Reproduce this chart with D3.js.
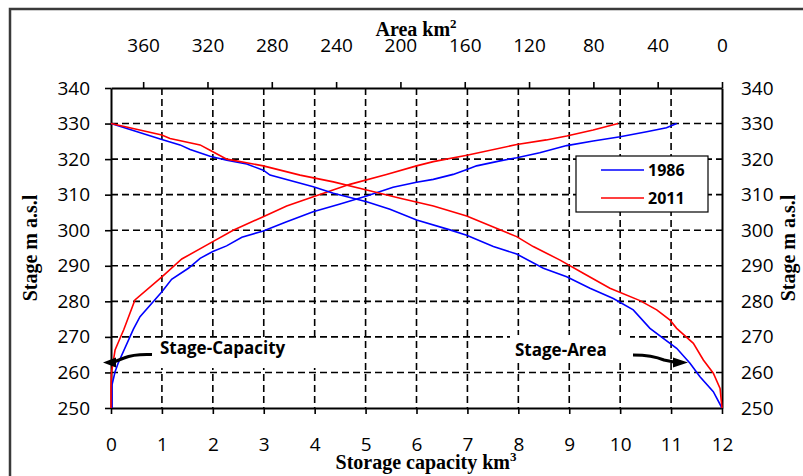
<!DOCTYPE html>
<html>
<head>
<meta charset="utf-8">
<script src="https://cdn.jsdelivr.net/npm/d3@7"></script>
<style>
  body { margin: 0; background: #fff; }
  svg { display: block; }
  .tick text { font-family: "Open Sans", sans-serif; font-size: 19px; fill: #000; }
</style>
</head>
<body>
<div id="chart"></div>
<script>
// stage-capacity readings (km3 vs m a.s.l)
var cap1986Stage = [250, 256.5, 260.2, 262.6, 272.2, 275.7, 282.7, 286.2, 289.3, 292.1, 294.0, 295.6, 298.0, 299.8, 302.4, 305.2, 307.4, 309.6, 312.1, 313.5, 314.3, 315.7, 317.1, 318.1, 319.5, 320.4, 321.8, 323.8, 325.1, 326.3, 327.7, 328.8, 330];
var cap1986 = [0.02, 0.02, 0.08, 0.14, 0.44, 0.57, 1.0, 1.19, 1.52, 1.75, 2.0, 2.27, 2.57, 2.99, 3.45, 3.97, 4.5, 5.02, 5.54, 6.0, 6.33, 6.72, 6.99, 7.18, 7.64, 7.97, 8.42, 8.95, 9.47, 10.0, 10.52, 10.91, 11.11];
var cap2011Stage = [250, 256, 260, 266.3, 269.7, 272, 280.4, 286.9, 291.9, 296.8, 300.0, 303.8, 306.8, 309.7, 312.9, 315.7, 318.1, 319.3, 321.1, 324.1, 325.4, 326.5, 328.2, 330];
var cap2011 = [0, 0, 0.01, 0.08, 0.18, 0.25, 0.47, 1.0, 1.39, 2.0, 2.4, 2.99, 3.45, 4.03, 4.69, 5.41, 6.0, 6.33, 6.99, 7.97, 8.55, 8.95, 9.47, 9.96];

// stage-area readings (km2 vs m a.s.l)
var area1986Stage = [330, 325.5, 324, 322.7, 320.8, 319.7, 318.6, 316.9, 315.5, 312.2, 310.4, 308, 305.9, 302.9, 300.1, 298.6, 295.4, 293.3, 289.3, 286.9, 283.7, 280.8, 277.6, 272.4, 266.8, 262.6, 258.8, 254.6, 250];
var area1986 = [380, 348.4, 337.1, 330.8, 318.4, 308, 295.6, 285.3, 281.1, 254.2, 241.7, 221, 206.5, 189.9, 169.2, 158.8, 142.2, 127.7, 111.1, 96.6, 82.1, 67.6, 55.2, 44.8, 28.2, 19.9, 13.7, 5.4, 0];
var area2011Stage = [330, 326.8, 325.8, 324.0, 322.5, 320.0, 318.1, 315.5, 313.6, 311.3, 309, 306.8, 304, 298.2, 295.4, 291.6, 287.9, 283.7, 280.2, 277.6, 274.7, 272.4, 268.2, 263.5, 259.8, 255.5, 250];
var area2011 = [380, 348.4, 343.3, 324.6, 318.4, 308, 285.3, 262.4, 241.7, 221, 200.2, 179.5, 158.8, 127.7, 117.4, 100.7, 86.3, 69.7, 51, 40.6, 32.3, 28.2, 17.8, 11.6, 5.4, 1.2, 0];

var years = ["1986", "2011"];
var colors = ["#0000ff", "#ff0000"];
var capTicks = d3.range(0, 13, 1);
var areaTicks = d3.range(0, 361, 40);
var stageTicks = d3.range(250, 341, 10);

var W = 803, H = 476;
// plot box (note: "top" is taken by window.top, so use p* names)
var pLeft = 111, pRight = 722, pTop = 88, pBottom = 408;

var x = d3.scaleLinear().domain([0, 12]).range([pLeft, pRight]);
var xArea = d3.scaleLinear().domain([380, 0]).range([pLeft, pRight]);
var y = d3.scaleLinear().domain([250, 340]).range([pBottom, pTop]);

var svg = d3.select("#chart").append("svg")
    .attr("width", W)
    .attr("height", H);

// outer frame (runs off the right / bottom edge like the source)
svg.append("rect")
    .attr("x", 10).attr("y", 9)
    .attr("width", 800).attr("height", 480)
    .attr("fill", "none")
    .attr("stroke", "#3a3a3a")
    .attr("stroke-width", 2.5);

// dashed grid
var grid = svg.append("g").attr("stroke", "#000").attr("stroke-width", 1.6).attr("stroke-dasharray", "7,4");
grid.selectAll("line.h")
    .data(stageTicks.filter(function(d) { return d > 250 && d < 340; }))
    .enter().append("line")
    .attr("x1", pLeft).attr("x2", pRight)
    .attr("y1", function(d) { return y(d); })
    .attr("y2", function(d) { return y(d); });
grid.selectAll("line.v")
    .data(capTicks.filter(function(d) { return d > 0 && d < 12; }))
    .enter().append("line")
    .attr("x1", function(d) { return x(d); })
    .attr("x2", function(d) { return x(d); })
    .attr("y1", pTop).attr("y2", pBottom);

// white boxes behind the annotation texts
svg.append("rect").attr("x", 150).attr("y", 339).attr("width", 170).attr("height", 29).attr("fill", "#fff");
svg.append("rect").attr("x", 510).attr("y", 335).attr("width", 120).attr("height", 27).attr("fill", "#fff");

// axes
function styleAxis(g) {
    g.select(".domain").attr("stroke", "#000").attr("stroke-width", 2);
    g.selectAll(".tick line").attr("stroke", "#000").attr("stroke-width", 1.6);
}

svg.append("g")
    .attr("transform", "translate(0," + pBottom + ")")
    .call(d3.axisBottom(x).tickValues(capTicks).tickSize(6).tickSizeOuter(0).tickPadding(24).tickFormat(d3.format("d")))
    .call(styleAxis);

svg.append("g")
    .attr("transform", "translate(0," + pTop + ")")
    .call(d3.axisTop(xArea).tickValues(areaTicks).tickSize(6).tickSizeOuter(0).tickPadding(30).tickFormat(d3.format("d")))
    .call(styleAxis);

svg.append("g")
    .attr("transform", "translate(" + pLeft + ",0)")
    .call(d3.axisLeft(y).tickValues(stageTicks).tickSize(6).tickSizeOuter(0).tickPadding(15))
    .call(styleAxis);

svg.append("g")
    .attr("transform", "translate(" + pRight + ",0)")
    .call(d3.axisRight(y).tickValues(stageTicks).tickSize(0).tickSizeOuter(0).tickPadding(19))
    .call(styleAxis);

// curves
var series = [
    { stage: cap1986Stage, vals: cap1986, sx: x, c: 0 },
    { stage: cap2011Stage, vals: cap2011, sx: x, c: 1 },
    { stage: area1986Stage, vals: area1986, sx: xArea, c: 0 },
    { stage: area2011Stage, vals: area2011, sx: xArea, c: 1 }
];

series.forEach(function(s) {
    var pts = s.vals.map(function(v, i) { return [v, s.stage[i]]; });
    svg.append("path")
        .datum(pts)
        .attr("fill", "none")
        .attr("stroke", colors[s.c])
        .attr("stroke-width", 1.6)
        .attr("d", d3.line()
            .x(function(d) { return s.sx(d[0]); })
            .y(function(d) { return y(d[1]); }));
});

// axis titles
var serif = "'Liberation Serif', 'Times New Roman', serif";
var topTitle = svg.append("text")
    .attr("x", 416).attr("y", 36)
    .attr("text-anchor", "middle")
    .style("font-family", serif).style("font-weight", "bold").style("font-size", "20px")
    .text("Area km");
topTitle.append("tspan").attr("dy", -8).style("font-size", "13px").text("2");

var botTitle = svg.append("text")
    .attr("x", 426).attr("y", 469)
    .attr("text-anchor", "middle")
    .style("font-family", serif).style("font-weight", "bold").style("font-size", "20px")
    .text("Storage capacity km");
botTitle.append("tspan").attr("dy", -8).style("font-size", "13px").text("3");

[37, 795].forEach(function(tx) {
    svg.append("text")
        .attr("transform", "translate(" + tx + "," + ((pTop + pBottom) / 2) + ") rotate(-90)")
        .attr("text-anchor", "middle")
        .style("font-family", serif).style("font-weight", "bold").style("font-size", "20px")
        .text("Stage m a.s.l");
});

// legend
var legend = svg.append("g");
legend.append("rect")
    .attr("x", 576).attr("y", 156)
    .attr("width", 132).attr("height", 56)
    .attr("fill", "#fff").attr("stroke", "#000").attr("stroke-width", 1.2);
years.forEach(function(yr, i) {
    var ly = 170 + i * 28;
    legend.append("line")
        .attr("x1", 601).attr("x2", 644)
        .attr("y1", ly).attr("y2", ly)
        .attr("stroke", colors[i]).attr("stroke-width", 1.6);
    legend.append("text")
        .attr("x", 648).attr("y", ly + 6)
        .style("font-family", "'Open Sans', sans-serif").style("font-weight", "bold").style("font-size", "16px")
        .text(yr);
});

// annotations
var annFont = "'Open Sans', sans-serif";
svg.append("text")
    .attr("x", 160).attr("y", 354)
    .style("font-family", annFont).style("font-weight", "bold").style("font-size", "17px")
    .text("Stage-Capacity");
svg.append("text")
    .attr("x", 515).attr("y", 356)
    .style("font-family", annFont).style("font-weight", "bold").style("font-size", "17px")
    .text("Stage-Area");

svg.append("path")
    .attr("d", "M152,354.5 C140,354 131,355 124,358 L115,361.5")
    .attr("fill", "none").attr("stroke", "#000").attr("stroke-width", 3);
svg.append("path")
    .attr("d", "M103,362.5 L116,357.5 L116,367.5 Z")
    .attr("fill", "#000");

svg.append("path")
    .attr("d", "M633,355 C648,355 657,357 664,360 L674,362")
    .attr("fill", "none").attr("stroke", "#000").attr("stroke-width", 3);
svg.append("path")
    .attr("d", "M688,362.5 L673,357.5 L673,367.5 Z")
    .attr("fill", "#000");
</script>
</body>
</html>
